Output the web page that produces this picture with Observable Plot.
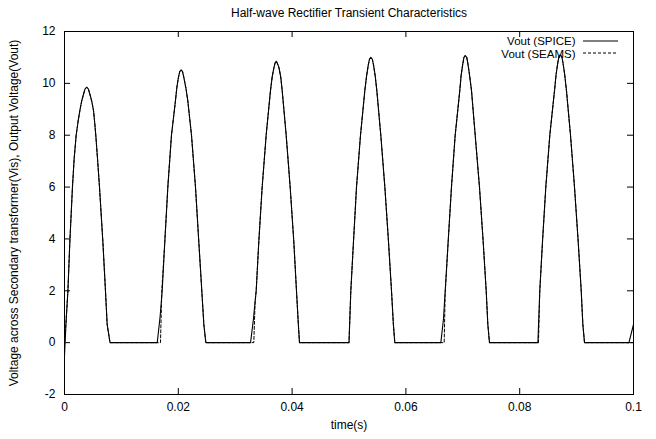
<!DOCTYPE html>
<html>
<head>
<meta charset="utf-8">
<script src="https://cdn.jsdelivr.net/npm/d3@7"></script>
<script src="https://cdn.jsdelivr.net/npm/@observablehq/plot@0.6"></script>
<style>
  html, body { margin: 0; padding: 0; background: #fff; }
  svg { font-family: "Liberation Sans", Arial, sans-serif; }
</style>
</head>
<body>
<div id="chart"></div>
<script>
const title = "Half-wave Rectifier Transient Characteristics";
const xLabel = "time(s)";
const yLabel = "Voltage across Secondary transformer(Vis), Output Voltage(Vout)";
const seriesNames = ["Vout (SPICE)", "Vout (SEAMS)"];
const xTicks = [0, 0.02, 0.04, 0.06, 0.08, 0.1];
const yTicks = [-2, 0, 2, 4, 6, 8, 10, 12];

// [time (s), voltage (V)]
const spice = [
  [0, -0.5], [0.0003, 0.9], [0.0006, 2.0], [0.00094, 3.9], [0.0014, 6.0], [0.0017, 7.1], [0.00205, 8.0], [0.0024, 8.55], [0.0027, 8.95],
  [0.0030, 9.3], [0.0033, 9.55], [0.0036, 9.78], [0.0039, 9.85], [0.0042, 9.78], [0.0045, 9.55], [0.0048, 9.3],
  [0.0051, 8.95], [0.0053, 8.5], [0.0055, 8.0], [0.0058, 7.1], [0.00615, 6.0],
  [0.00674, 3.9], [0.0072, 2.0], [0.0075, 0.7], [0.0080, 0],
  [0.0163, 0], [0.0168, 1.0], [0.01717, 2.0], [0.01763, 3.9], [0.01816, 6.0], [0.0188, 8.0],
  [0.0195, 9.33], [0.01975, 9.85], [0.0200, 10.2], [0.02025, 10.45], [0.0205, 10.52], [0.02075, 10.45],
  [0.0210, 10.2], [0.02135, 9.8], [0.02167, 9.33], [0.02232, 8.0],
  [0.02302, 6.0], [0.0236, 3.9], [0.02413, 2.0], [0.02449, 0.7], [0.02484, 0],
  [0.0327, 0], [0.0332, 0.9], [0.03369, 2.0], [0.03415, 3.9], [0.03474, 6.0], [0.03544, 8.0],
  [0.0362, 9.72], [0.0365, 10.25], [0.0368, 10.6], [0.0370, 10.78], [0.0372, 10.85], [0.0374, 10.78],
  [0.0377, 10.6], [0.0380, 10.25], [0.03826, 9.72], [0.03896, 8.0],
  [0.03966, 6.0], [0.0403, 3.9], [0.04077, 2.0], [0.0411, 0.7], [0.0413, 0],
  [0.0500, 0], [0.05032, 2.0], [0.05079, 3.9], [0.05132, 6.0], [0.05202, 8.0], [0.05278, 9.72],
  [0.0531, 10.3], [0.0534, 10.72], [0.0536, 10.93], [0.05383, 11.0], [0.0541, 10.93], [0.0543, 10.72],
  [0.0546, 10.3], [0.05489, 9.72], [0.05559, 8.0], [0.0563, 6.0],
  [0.05694, 3.9], [0.05747, 2.0], [0.0578, 0.7], [0.05805, 0],
  [0.06614, 0], [0.0666, 0.9], [0.06691, 2.0], [0.06743, 3.9], [0.06801, 6.0], [0.06866, 8.0],
  [0.06947, 9.72], [0.0697, 10.3], [0.0700, 10.75], [0.0702, 11.0], [0.07042, 11.07], [0.0707, 11.0],
  [0.0709, 10.75], [0.0712, 10.3], [0.07153, 9.72], [0.07218, 8.0],
  [0.07293, 6.0], [0.07358, 3.9], [0.07411, 2.0], [0.0744, 0.7], [0.07469, 0],
  [0.0832, 0], [0.08353, 2.0], [0.08401, 3.9], [0.08459, 6.0], [0.08529, 8.0], [0.08612, 9.72],
  [0.0864, 10.35], [0.0867, 10.8], [0.0869, 11.03], [0.08711, 11.1], [0.0874, 11.03], [0.0876, 10.8],
  [0.0879, 10.35], [0.08822, 9.72], [0.08893, 8.0], [0.08963, 6.0],
  [0.09028, 3.9], [0.09081, 2.0], [0.0911, 0.7], [0.09139, 0],
  [0.0992, 0], [0.1, 0.7]
];

const seams = [
  [0, 0], [0.0003, 0.9], [0.0006, 2.0], [0.00094, 3.9], [0.0014, 6.0], [0.0017, 7.1], [0.00205, 8.0], [0.0024, 8.55], [0.0027, 8.95],
  [0.0030, 9.3], [0.0033, 9.55], [0.0036, 9.78], [0.0039, 9.85], [0.0042, 9.78], [0.0045, 9.55], [0.0048, 9.3],
  [0.0051, 8.95], [0.0053, 8.5], [0.0055, 8.0], [0.0058, 7.1], [0.00615, 6.0],
  [0.00674, 3.9], [0.0072, 2.0], [0.0075, 0.7], [0.0080, 0],
  [0.01687, 0], [0.0171, 2.0], [0.01763, 3.9], [0.01816, 6.0], [0.0188, 8.0],
  [0.0195, 9.33], [0.01975, 9.85], [0.0200, 10.2], [0.02025, 10.45], [0.0205, 10.52], [0.02075, 10.45],
  [0.0210, 10.2], [0.02135, 9.8], [0.02167, 9.33], [0.02232, 8.0],
  [0.02302, 6.0], [0.0236, 3.9], [0.02413, 2.0], [0.02449, 0.7], [0.02484, 0],
  [0.03327, 0], [0.0335, 1.6], [0.03369, 2.0], [0.03415, 3.9], [0.03474, 6.0], [0.03544, 8.0],
  [0.0362, 9.72], [0.0365, 10.25], [0.0368, 10.6], [0.0370, 10.78], [0.0372, 10.85], [0.0374, 10.78],
  [0.0377, 10.6], [0.0380, 10.25], [0.03826, 9.72], [0.03896, 8.0],
  [0.03966, 6.0], [0.0403, 3.9], [0.04077, 2.0], [0.0411, 0.7], [0.0413, 0],
  [0.0500, 0], [0.05032, 2.0], [0.05079, 3.9], [0.05132, 6.0], [0.05202, 8.0], [0.05278, 9.72],
  [0.0531, 10.3], [0.0534, 10.72], [0.0536, 10.93], [0.05383, 11.0], [0.0541, 10.93], [0.0543, 10.72],
  [0.0546, 10.3], [0.05489, 9.72], [0.05559, 8.0], [0.0563, 6.0],
  [0.05694, 3.9], [0.05747, 2.0], [0.0578, 0.7], [0.05805, 0],
  [0.06673, 0], [0.0669, 1.9], [0.06743, 3.9], [0.06801, 6.0], [0.06866, 8.0],
  [0.06947, 9.72], [0.0697, 10.3], [0.0700, 10.75], [0.0702, 11.0], [0.07042, 11.07], [0.0707, 11.0],
  [0.0709, 10.75], [0.0712, 10.3], [0.07153, 9.72], [0.07218, 8.0],
  [0.07293, 6.0], [0.07358, 3.9], [0.07411, 2.0], [0.0744, 0.7], [0.07469, 0],
  [0.0833, 0], [0.08353, 2.0], [0.08401, 3.9], [0.08459, 6.0], [0.08529, 8.0], [0.08612, 9.72],
  [0.0864, 10.35], [0.0867, 10.8], [0.0869, 11.03], [0.08711, 11.1], [0.0874, 11.03], [0.0876, 10.8],
  [0.0879, 10.35], [0.08822, 9.72], [0.08893, 8.0], [0.08963, 6.0],
  [0.09028, 3.9], [0.09081, 2.0], [0.0911, 0.7], [0.09139, 0],
  [0.1, 0]
];

const W = 656, H = 439;
const mL = 64, mR = 23, mT = 31, mB = 45;
const innerW = W - mL - mR, innerH = H - mT - mB;
const tickLen = 6;
const fs = 12;
const legendFs = 11.5;

const chart = Plot.plot({
  width: W,
  height: H,
  marginLeft: mL,
  marginRight: mR,
  marginTop: mT,
  marginBottom: mB,
  style: { fontFamily: '"Liberation Sans", Arial, sans-serif', fontSize: fs + "px", background: "#fff", color: "#000" },
  x: { domain: [0, 0.1] },
  y: { domain: [-2, 12] },
  marks: [
    // inward ticks on all four sides
    Plot.ruleX(xTicks, { x: d => d, insetTop: innerH - tickLen, stroke: "#000" }),
    Plot.ruleX(xTicks, { x: d => d, insetBottom: innerH - tickLen, stroke: "#000" }),
    Plot.ruleY(yTicks, { y: d => d, insetRight: innerW - tickLen, stroke: "#000" }),
    Plot.ruleY(yTicks, { y: d => d, insetLeft: innerW - tickLen, stroke: "#000" }),
    Plot.axisX(xTicks, { tickSize: 0, tickPadding: 8, fontSize: fs, tickFormat: d => String(d), label: null }),
    Plot.axisY(yTicks, { tickSize: 0, tickPadding: 9, fontSize: fs, tickFormat: d => String(d), label: null }),
    // data
    Plot.line(spice, { x: d => d[0], y: d => d[1], stroke: "#000", strokeWidth: 1.1 }),
    Plot.line(seams, { x: d => d[0], y: d => d[1], stroke: "#000", strokeWidth: 1, strokeDasharray: "3,2" }),
    Plot.frame({ stroke: "#000", strokeWidth: 1 }),
    // titles
    Plot.text([title], { text: d => d, frameAnchor: "top", lineAnchor: "middle", dy: -18, fontSize: fs, fill: "#000" }),
    Plot.text([xLabel], { text: d => d, frameAnchor: "bottom", lineAnchor: "middle", dy: 31, fontSize: fs, fill: "#000" }),
    Plot.text([yLabel], { text: d => d, frameAnchor: "left", textAnchor: "middle", lineAnchor: "middle", dx: -50, rotate: -90, fontSize: fs, fill: "#000" }),
    // legend
    Plot.text([seriesNames[0]], { text: d => d, frameAnchor: "top-right", lineAnchor: "middle", dx: -58, dy: 9.5, textAnchor: "end", fontSize: legendFs, fill: "#000" }),
    Plot.text([seriesNames[1]], { text: d => d, frameAnchor: "top-right", lineAnchor: "middle", dx: -58, dy: 22.5, textAnchor: "end", fontSize: legendFs, fill: "#000" })
  ]
});

// legend line samples next to the legend texts
const svg = d3.select(chart);
const legendX1 = W - mR - 50, legendX2 = W - mR - 15;
svg.append("line").attr("x1", legendX1).attr("x2", legendX2).attr("y1", mT + 10).attr("y2", mT + 10)
  .attr("stroke", "#000").attr("stroke-width", 1.1);
svg.append("line").attr("x1", legendX1).attr("x2", legendX2).attr("y1", mT + 22).attr("y2", mT + 22)
  .attr("stroke", "#000").attr("stroke-width", 1).attr("stroke-dasharray", "3,2");

document.getElementById("chart").appendChild(chart);
</script>
</body>
</html>
